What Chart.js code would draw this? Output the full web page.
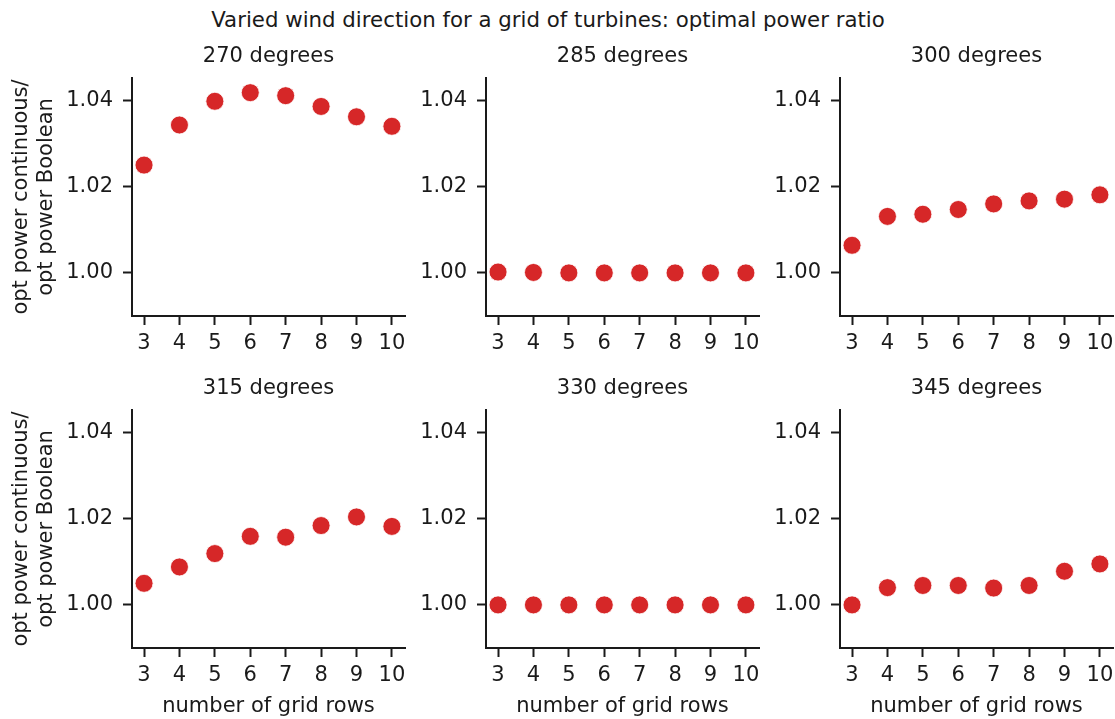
<!DOCTYPE html>
<html>
<head>
<meta charset="utf-8">
<script src="https://cdn.jsdelivr.net/npm/chart.js@4/dist/chart.umd.min.js"></script>
<style>
  html, body { margin: 0; padding: 0; background: #ffffff; }
  body { width: 1115px; height: 719px; position: relative; overflow: hidden; }
  canvas { position: absolute; }
  #suptitle { position: absolute; left: 0; width: 1096px; top: 9px; text-align: center;
    font-family: "DejaVu Sans", sans-serif; font-size: 21.3px; line-height: 22px; color: #1a1a1a; white-space: nowrap; }
</style>
</head>
<body>
<div id="suptitle">Varied wind direction for a grid of turbines: optimal power ratio</div>
<script>
// ---- data ----
const gridRows = [3, 4, 5, 6, 7, 8, 9, 10];
const panelTitles = ["270 degrees", "285 degrees", "300 degrees", "315 degrees", "330 degrees", "345 degrees"];
const ratio270 = [1.0250, 1.0343, 1.0398, 1.0418, 1.0411, 1.0386, 1.0362, 1.0340];
const ratio285 = [1.0002, 1.0001, 1.0000, 1.0000, 1.0000, 1.0000, 1.0000, 1.0000];
const ratio300 = [1.0064, 1.0131, 1.0136, 1.0147, 1.0160, 1.0167, 1.0171, 1.0181];
const ratio315 = [1.0050, 1.0088, 1.0119, 1.0159, 1.0157, 1.0184, 1.0204, 1.0182];
const ratio330 = [1.0000, 1.0000, 1.0000, 1.0000, 1.0000, 1.0000, 1.0000, 1.0000];
const ratio345 = [1.0000, 1.0040, 1.0045, 1.0045, 1.0039, 1.0045, 1.0078, 1.0095];
const yTickValues = [1.00, 1.02, 1.04];
const xTickValues = [3, 4, 5, 6, 7, 8, 9, 10];
const yLabel = ["opt power continuous/", "opt power Boolean"];
const xLabel = "number of grid rows";

const seriesList = [ratio270, ratio285, ratio300, ratio315, ratio330, ratio345];

// ---- layout ----
const colLefts = [132, 486, 840];
const rowTops = [78, 410];
const plotW = 273, plotH = 238;
const yAxisW = 132, topSpace = 60, xAxisH = 71;
const canvasW = 440, canvasH = topSpace + plotH + xAxisH;
const ink = "#1a1a1a";
const FONT = "'DejaVu Sans', sans-serif";
const FS = 21;

seriesList.forEach((series, i) => {
  const row = Math.floor(i / 3), col = i % 3;
  const cv = document.createElement("canvas");
  cv.width = canvasW; cv.height = canvasH;
  cv.style.width = canvasW + "px"; cv.style.height = canvasH + "px";
  cv.style.left = (colLefts[col] - yAxisW) + "px";
  cv.style.top = (rowTops[row] - topSpace) + "px";
  document.body.appendChild(cv);

  new Chart(cv.getContext("2d"), {
    type: "scatter",
    data: {
      datasets: [{
        data: gridRows.map((x, k) => ({ x: x, y: series[k] })),
        backgroundColor: "#d62728",
        borderColor: "#ffffff",
        borderWidth: 0.8,
        pointRadius: 9,
        pointHoverRadius: 9
      }]
    },
    options: {
      responsive: false,
      animation: false,
      events: [],
      layout: { padding: { left: 0, top: 0, right: canvasW - yAxisW - plotW, bottom: 0 } },
      plugins: {
        legend: { display: false },
        tooltip: { enabled: false },
        title: {
          display: true,
          text: panelTitles[i],
          fullSize: false,
          color: ink,
          font: { family: FONT, size: FS, weight: "normal" },
          padding: { top: 25.5, bottom: 9.3 }
        }
      },
      scales: {
        x: {
          type: "linear",
          min: 2.66, max: 10.37,
          afterBuildTicks: (s) => { s.ticks = xTickValues.map(v => ({ value: v })); },
          afterFit: (s) => { s.height = xAxisH; },
          grid: { display: true, drawOnChartArea: false, drawTicks: true, tickLength: 9, tickWidth: 2, tickColor: ink, color: ink },
          border: { display: true, color: ink, width: 2 },
          ticks: { color: ink, padding: 5.5, font: { family: FONT, size: FS }, maxRotation: 0, autoSkip: false,
                   callback: (v) => String(v) },
          title: { display: row === 1, text: xLabel, color: ink, font: { family: FONT, size: FS }, padding: { top: 0, bottom: 0 } }
        },
        y: {
          type: "linear",
          min: 0.99, max: 1.0452,
          afterBuildTicks: (s) => { s.ticks = yTickValues.map(v => ({ value: v })); },
          afterFit: (s) => { s.width = yAxisW; },
          grid: { display: true, drawOnChartArea: false, drawTicks: true, tickLength: 9, tickWidth: 2, tickColor: ink, color: ink },
          border: { display: true, color: ink, width: 2 },
          ticks: { color: ink, padding: 10, font: { family: FONT, size: FS }, autoSkip: false,
                   callback: (v) => Number(v).toFixed(2) },
          title: { display: col === 0, text: yLabel, color: ink, font: { family: FONT, size: FS }, padding: { top: 9, bottom: 0 } }
        }
      }
    }
  });
});
</script>
</body>
</html>
